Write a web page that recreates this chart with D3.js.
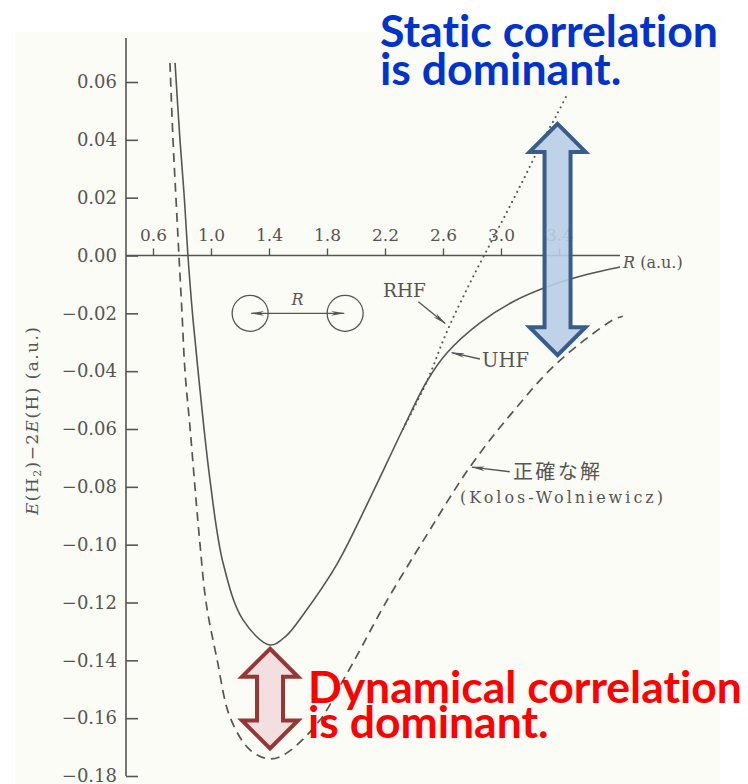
<!DOCTYPE html>
<html>
<head>
<meta charset="utf-8">
<script src="https://cdn.jsdelivr.net/npm/d3@7"></script>
<style>
  body { margin: 0; background: #fff; }
  svg { display: block; }
</style>
</head>
<body>
<div id="chart"></div>
<script>
// values: R in bohr, E(H2) - 2E(H) in hartree
const exactR = [0.717, 0.738, 0.759, 0.779, 0.800, 0.821, 0.855, 0.890, 0.924, 0.966, 1.041, 1.131, 1.269, 1.407, 1.524, 1.752, 1.910, 2.000, 2.200, 2.480, 2.786, 3.083, 3.386, 3.772, 3.840];
const exactE = [0.0666, 0.040, 0.0192, 0.0, -0.0199, -0.0403, -0.0593, -0.0804, -0.0998, -0.120, -0.1395, -0.1596, -0.171, -0.1741, -0.172, -0.1606, -0.147, -0.139, -0.1205, -0.0973, -0.0731, -0.054, -0.0372, -0.0223, -0.021];

// Hartree-Fock (RHF = UHF) up to the Coulson-Fischer point
const hfR = [0.752, 0.786, 0.817, 0.841, 0.872, 0.917, 0.993, 1.083, 1.221, 1.407, 1.517, 1.634, 1.869, 2.097, 2.324, 2.490];
const hfE = [0.0666, 0.040, 0.0192, 0.0, -0.0199, -0.0430, -0.0776, -0.1063, -0.1260, -0.1347, -0.1316, -0.1243, -0.1067, -0.0839, -0.0600, -0.0434];

// UHF branch after the split
const uhfR = [2.625, 2.855, 3.083, 3.338, 3.591, 3.821];
const uhfE = [-0.0338, -0.0233, -0.0160, -0.0105, -0.0066, -0.0040];

// RHF branch after the split (dotted)
const rhfR = [2.324, 2.490, 2.625, 2.786, 2.920, 3.040, 3.160, 3.270, 3.390, 3.460];
const rhfE = [-0.0600, -0.0434, -0.0265, -0.0095, 0.0035, 0.0150, 0.0268, 0.0380, 0.0492, 0.0560];

const xTicks = [0.6, 1.0, 1.4, 1.8, 2.2, 2.6, 3.0, 3.4];
const yTicks = [0.06, 0.04, 0.02, 0.00, -0.02, -0.04, -0.06, -0.08, -0.10, -0.12, -0.14, -0.16, -0.18];

const ink = '#555';
const serif = 'DejaVu Serif, Liberation Serif, serif';

const svg = d3.select('#chart')
  .append('svg')
  .attr('width', 748)
  .attr('height', 784);

svg.append('rect').attr('width', 748).attr('height', 784).attr('fill', '#fff');
// scanned page area
svg.append('rect')
  .attr('x', 15).attr('y', 32)
  .attr('width', 705).attr('height', 752)
  .attr('fill', '#fcfcf7');

const x = d3.scaleLinear().domain([0.6, 3.4]).range([153, 559]);
const y = d3.scaleLinear().domain([-0.18, 0.06]).range([776, 82]);

const defs = svg.append('defs');
defs.append('marker')
  .attr('id', 'head')
  .attr('markerUnits', 'userSpaceOnUse')
  .attr('viewBox', '0 0 14 6')
  .attr('markerWidth', 14).attr('markerHeight', 6)
  .attr('refX', 13).attr('refY', 3)
  .attr('orient', 'auto-start-reverse')
  .append('path')
  .attr('d', 'M0,0.6 L14,3 L0,5.4 L4,3 Z')
  .attr('fill', ink);

// ---- curves
const line = d3.line()
  .x(d => x(d[0]))
  .y(d => y(d[1]))
  .curve(d3.curveCatmullRom.alpha(0.5));

const exactPts = exactR.map((r, i) => [r, exactE[i]]);
const solidPts = hfR.map((r, i) => [r, hfE[i]]).concat(uhfR.map((r, i) => [r, uhfE[i]]));
const rhfPts = rhfR.map((r, i) => [r, rhfE[i]]);

svg.append('path')
  .attr('d', line(exactPts))
  .attr('fill', 'none')
  .attr('stroke', ink)
  .attr('stroke-width', 1.7)
  .attr('stroke-dasharray', '9,6');

svg.append('path')
  .attr('d', line(solidPts))
  .attr('fill', 'none')
  .attr('stroke', ink)
  .attr('stroke-width', 1.6);

svg.append('path')
  .attr('d', line(rhfPts))
  .attr('fill', 'none')
  .attr('stroke', ink)
  .attr('stroke-width', 2)
  .attr('stroke-linecap', 'round')
  .attr('stroke-dasharray', '0.1,5.5');

// ---- axes
const yAxis = d3.axisLeft(y)
  .tickValues(yTicks)
  .tickFormat(d3.format('.2f'))
  .tickSizeInner(-12)
  .tickSizeOuter(0)
  .tickPadding(9);

const gy = svg.append('g')
  .attr('transform', 'translate(126,0)')
  .call(yAxis)
  .attr('font-family', serif)
  .attr('font-size', 18)
  .attr('color', ink);
gy.select('.domain').remove();
gy.selectAll('.tick line').attr('stroke-width', 1.6);

svg.append('line')
  .attr('x1', 126).attr('x2', 126)
  .attr('y1', 38).attr('y2', y(-0.18))
  .attr('stroke', ink)
  .attr('stroke-width', 1.6);

const xAxis = d3.axisTop(x)
  .tickValues(xTicks)
  .tickFormat(d3.format('.1f'))
  .tickSizeInner(7)
  .tickSizeOuter(0)
  .tickPadding(8);

const gx = svg.append('g')
  .attr('transform', 'translate(0,' + y(0) + ')')
  .call(xAxis)
  .attr('font-family', serif)
  .attr('font-size', 17)
  .attr('color', ink);
gx.select('.domain').remove();
gx.selectAll('.tick line').attr('stroke-width', 1.4);

svg.append('line')
  .attr('x1', 126).attr('x2', 620)
  .attr('y1', y(0)).attr('y2', y(0))
  .attr('stroke', ink)
  .attr('stroke-width', 1.6);

// axis titles
const xt = svg.append('text')
  .attr('x', 623).attr('y', 268)
  .attr('font-family', serif).attr('font-size', 16)
  .attr('fill', ink);
xt.append('tspan').attr('font-style', 'italic').text('R');
xt.append('tspan').text(' (a.u.)');

const yt = svg.append('text')
  .attr('transform', 'translate(38,421) rotate(-90)')
  .attr('text-anchor', 'middle')
  .attr('font-family', serif).attr('font-size', 17)
  .attr('fill', ink)
  .attr('textLength', 188);
yt.append('tspan').attr('font-style', 'italic').text('E');
yt.append('tspan').text('(H');
yt.append('tspan').attr('font-size', 11).attr('dy', 3).text('2');
yt.append('tspan').attr('dy', -3).text(')\u22122');
yt.append('tspan').attr('font-style', 'italic').text('E');
yt.append('tspan').text('(H) (a.u.)');

// ---- labels with pointer arrows
function pointer(tail, tip) {
  svg.append('line')
    .attr('x1', x(tail[0])).attr('y1', y(tail[1]))
    .attr('x2', x(tip[0])).attr('y2', y(tip[1]))
    .attr('stroke', ink)
    .attr('stroke-width', 1.4)
    .attr('marker-end', 'url(#head)');
}

pointer([2.43, -0.016], [2.615, -0.0235]);
svg.append('text')
  .attr('x', 383).attr('y', 297)
  .attr('font-family', serif).attr('font-size', 18.5)
  .attr('fill', ink)
  .text('RHF');

pointer([2.855, -0.0358], [2.66, -0.0336]);
svg.append('text')
  .attr('x', 482).attr('y', 367)
  .attr('font-family', serif).attr('font-size', 19.5)
  .attr('fill', ink)
  .text('UHF');

pointer([3.06, -0.0748], [2.80, -0.0732]);
svg.append('text')
  .attr('x', 513).attr('y', 479)
  .attr('font-family', 'Noto Sans CJK JP, sans-serif').attr('font-size', 20)
  .attr('fill', ink)
  .attr('textLength', 87)
  .text('正確な解');
svg.append('text')
  .attr('x', 460).attr('y', 503)
  .attr('font-family', serif).attr('font-size', 16)
  .attr('fill', ink)
  .attr('textLength', 203)
  .text('(Kolos-Wolniewicz)');

// molecule sketch
const molY = y(-0.02);
const molA = x(1.27), molB = x(1.925);
[molA, molB].forEach(cx => {
  svg.append('circle')
    .attr('cx', cx).attr('cy', molY).attr('r', 18)
    .attr('fill', 'none')
    .attr('stroke', ink)
    .attr('stroke-width', 1.3);
});
svg.append('line')
  .attr('x1', molA + 1).attr('x2', molB - 1)
  .attr('y1', molY).attr('y2', molY)
  .attr('stroke', ink)
  .attr('stroke-width', 1.3)
  .attr('marker-start', 'url(#head)')
  .attr('marker-end', 'url(#head)');
svg.append('text')
  .attr('x', (molA + molB) / 2).attr('y', molY - 8)
  .attr('text-anchor', 'middle')
  .attr('font-family', serif).attr('font-size', 16).attr('font-style', 'italic')
  .attr('fill', ink)
  .text('R');

// ---- big double arrows
function bigArrow(cx, yTop, yBot, stroke, fill) {
  const hw = 28, sw = 13, hh = 28;
  const p = d3.path();
  p.moveTo(cx, yTop);
  p.lineTo(cx + hw, yTop + hh);
  p.lineTo(cx + sw, yTop + hh);
  p.lineTo(cx + sw, yBot - hh);
  p.lineTo(cx + hw, yBot - hh);
  p.lineTo(cx, yBot);
  p.lineTo(cx - hw, yBot - hh);
  p.lineTo(cx - sw, yBot - hh);
  p.lineTo(cx - sw, yTop + hh);
  p.lineTo(cx - hw, yTop + hh);
  p.closePath();
  svg.append('path')
    .attr('d', p.toString())
    .attr('fill', fill)
    .attr('fill-opacity', 0.9)
    .attr('stroke', stroke)
    .attr('stroke-width', 4)
    .attr('stroke-linejoin', 'miter');
}

bigArrow(x(3.39), y(0.0455), y(-0.0345), '#385d8a', '#b9cde5');
bigArrow(x(1.407), y(-0.1360), y(-0.1705), '#953735', '#f2dcdb');

// ---- slide captions
function caption(lines, x0, baselines, target, color) {
  const t = lines.map((s, i) => svg.append('text')
    .attr('x', x0).attr('y', baselines[i])
    .attr('font-family', 'Lato, Open Sans, sans-serif')
    .attr('font-weight', 700)
    .attr('font-size', 46)
    .style('font-variant-ligatures', 'none')
    .attr('fill', color)
    .text(s));
  const w = t[0].node().getComputedTextLength();
  const fs = 46 * target / w;
  t.forEach(s => s.attr('font-size', fs));
}

caption(['Static correlation', 'is dominant.'], 380, [47, 85], 338, '#0033cc');
caption(['Dynamical correlation', 'is dominant.'], 308, [703, 738], 434, '#ff0000');
</script>
</body>
</html>
